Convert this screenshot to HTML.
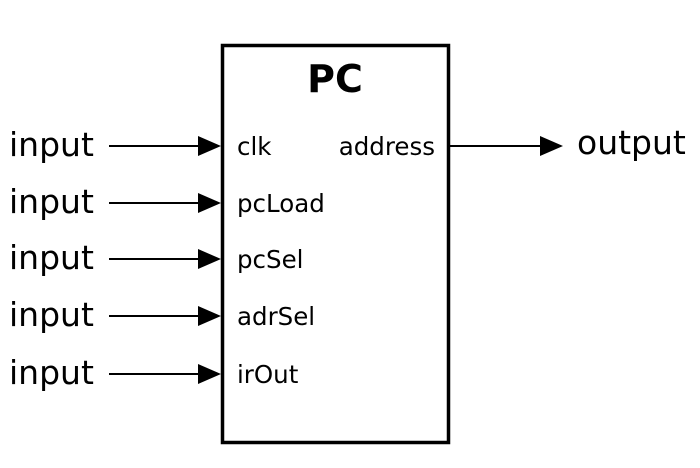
<!DOCTYPE html>
<html><head><style>
body{margin:0;background:#fff;}
svg text{font-family:"DejaVu Sans","Liberation Sans",sans-serif;fill:#000;}
</style></head><body>
<svg width="700" height="463" viewBox="0 0 700 463">
<rect x="222.5" y="45.5" width="226" height="397" fill="none" stroke="#000" stroke-width="3.5"/>
<text x="335" y="92" font-size="38" font-weight="bold" text-anchor="middle">PC</text>
<g stroke="#000" stroke-width="2">
<line x1="109" y1="146" x2="205" y2="146"/>
<line x1="109" y1="203" x2="205" y2="203"/>
<line x1="109" y1="259" x2="205" y2="259"/>
<line x1="109" y1="316" x2="205" y2="316"/>
<line x1="109" y1="374" x2="205" y2="374"/>
<line x1="449" y1="146" x2="545" y2="146"/>
</g>
<g fill="#000">
<polygon points="198,136 221,146 198,156"/>
<polygon points="198,193 221,203 198,213"/>
<polygon points="198,249 221,259 198,269"/>
<polygon points="198,306 221,316 198,326"/>
<polygon points="198,364 221,374 198,384"/>
<polygon points="540,136 563,146 540,156"/>
</g>
<g font-size="33">
<text x="9" y="156">input</text>
<text x="9" y="213">input</text>
<text x="9" y="269">input</text>
<text x="9" y="326">input</text>
<text x="9" y="384">input</text>
<text x="577" y="154">output</text>
</g>
<g font-size="24.5">
<text x="237" y="155">clk</text>
<text x="237" y="212">pcLoad</text>
<text x="237" y="268">pcSel</text>
<text x="237" y="325">adrSel</text>
<text x="237" y="383">irOut</text>
<text x="435" y="155" text-anchor="end">address</text>
</g>
</svg>
</body></html>
